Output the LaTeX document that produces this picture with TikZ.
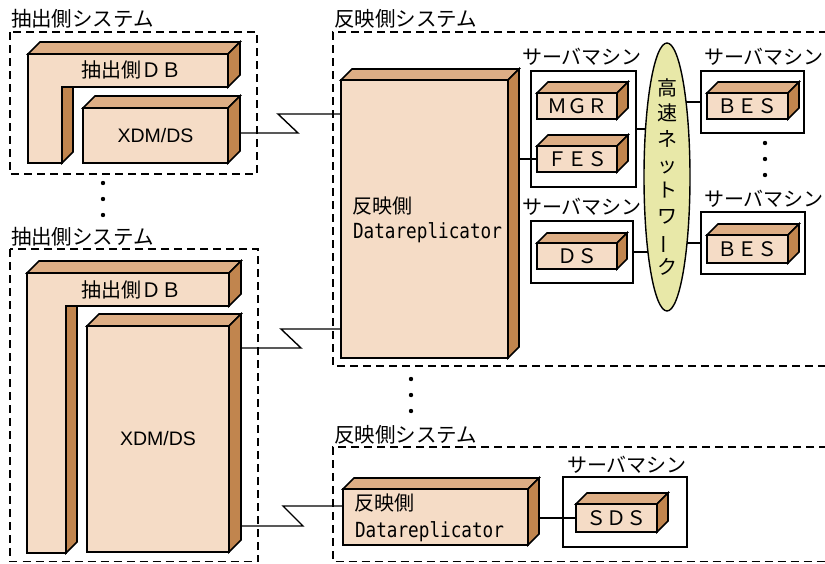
\documentclass[tikz,border=0pt]{standalone}
\usepackage{fontspec}
\setmainfont{Noto Sans CJK JP}
\newfontfamily\latinfont{Liberation Sans}
\newfontfamily\drmono[FakeStretch=0.85]{DejaVu Sans Mono}
\usetikzlibrary{backgrounds,shapes.geometric}
\definecolor{cfront}{HTML}{F5DCC6}
\definecolor{ctop}{HTML}{DDAE85}
\definecolor{cside}{HTML}{C1854E}
\definecolor{cnet}{HTML}{E8E8A8}
\newcommand\cubesides[2]{%
  \filldraw[cubeface, fill=ctop] (#1.north west) -- ++(#2,-#2) -- ([shift={(#2,-#2)}]#1.north east) -- (#1.north east) -- cycle;
  \filldraw[cubeface, fill=cside] (#1.north east) -- ++(#2,-#2) -- ([shift={(#2,-#2)}]#1.south east) -- (#1.south east) -- cycle;}
\newcommand\mkcube[7]{%
  \node[cube, minimum width={#4-#2}, minimum height={#5-#3}] (#1) at ({(#2+#4)/2},{(#3+#5)/2}) {#7};
  \cubesides{#1}{#6}}
\begin{document}
\begin{tikzpicture}[x=1pt,y=-1pt,
  every node/.style={inner sep=0pt, outer sep=0pt},
  cubeface/.style={draw=black, line width=1.6pt, line join=miter},
  cube/.style={cubeface, fill=cfront},
  srvbox/.style={draw, line width=1.4pt},
  sysbox/.style={draw, line width=1.5pt, dash pattern=on 8pt off 5pt},
  conn/.style={draw, line width=1.4pt},
  jp/.style={font=\fontsize{20}{24}\selectfont},
  syslabel/.style={font=\fontsize{20.5}{24}\selectfont, anchor=west},
  drtext/.style={font=\drmono\fontsize{20.8}{24}\selectfont, anchor=base west},
  lat/.style={font=\latinfont\fontsize{19.5}{24}\selectfont}
]
\useasboundingbox (0,0) rectangle (825,563);

% ---------- system frames (dashed) ----------
\node[syslabel] (lblE1) at (11,19) {抽出側システム};
\draw[sysbox] (10,32) rectangle (257,174);
\node[syslabel] (lblE2) at (11,237) {抽出側システム};
\draw[sysbox] (10,249) rectangle (258,561.5);
\node[syslabel] (lblR1) at (334,19) {反映側システム};
\draw[sysbox] (827,32) -- (333,32) -- (333,366) -- (827,366);
\node[syslabel] (lblR2) at (334,435) {反映側システム};
\draw[sysbox] (827,447) -- (333,447) -- (333,561.5) -- (827,561.5);

% ---------- upper extraction system ----------
\filldraw[cube] (28,54) -- (228,54) -- (228,87) -- (62,87) -- (62,163) -- (28,163) -- cycle;
\filldraw[cubeface, fill=ctop] (28,54) -- (40,42) -- (240,42) -- (228,54) -- cycle;
\filldraw[cubeface, fill=cside] (228,54) -- (240,42) -- (240,75) -- (228,87) -- cycle;
\filldraw[cubeface, fill=cside] (62,87) -- (73,87) -- (73,152) -- (62,163) -- cycle;
\node[jp] (dbA) at (131,70) {抽出側ＤＢ};
\mkcube{xdmA}{83}{108}{228}{163}{12}{\latinfont\fontsize{19.5}{24}\selectfont XDM/DS}

% ---------- lower extraction system ----------
\filldraw[cube] (27,273) -- (229,273) -- (229,306) -- (66,306) -- (66,553) -- (27,553) -- cycle;
\filldraw[cubeface, fill=ctop] (27,273) -- (39,261) -- (241,261) -- (229,273) -- cycle;
\filldraw[cubeface, fill=cside] (229,273) -- (241,261) -- (241,294) -- (229,306) -- cycle;
\filldraw[cubeface, fill=cside] (66,306) -- (77,306) -- (77,542) -- (66,553) -- cycle;
\node[jp] (dbB) at (131,290) {抽出側ＤＢ};
\mkcube{xdmB}{87}{326}{229}{552}{12}{\latinfont\fontsize{19.5}{24}\selectfont XDM/DS}

% ---------- upper reflection system ----------
\mkcube{drA}{341}{80}{508}{358}{11}{}
\node[jp, anchor=west] (drAj) at (352,206) {反映側};
\node[drtext] (drAl) at (353,238.5) {Datareplicator};

\node[srvbox, minimum width=105pt, minimum height=116pt] (s1) at (583.5,129) {};
\node[jp] (s1l) at (582,57) {サーバマシン};
\mkcube{mgr}{537}{93}{617}{119}{11}{\fontsize{20}{24}\selectfont ＭＧＲ}
\mkcube{fes}{537}{146}{617}{172}{11}{\fontsize{20}{24}\selectfont ＦＥＳ}

\node[srvbox, minimum width=102pt, minimum height=62pt] (s2) at (582,252) {};
\node[jp] (s2l) at (582,207) {サーバマシン};
\mkcube{ds}{537}{243}{617}{269}{10}{\fontsize{20}{24}\selectfont ＤＳ}

\node[srvbox, minimum width=103pt, minimum height=62pt] (s3) at (752.5,102) {};
\node[jp] (s3l) at (764,57) {サーバマシン};
\mkcube{besA}{707}{93}{788}{119}{11}{\fontsize{20}{24}\selectfont ＢＥＳ}

\node[srvbox, minimum width=104pt, minimum height=62pt] (s4) at (753,243) {};
\node[jp] (s4l) at (764,199) {サーバマシン};
\mkcube{besB}{707}{235}{788}{263}{11}{\fontsize{20}{24}\selectfont ＢＥＳ}

\node[ellipse, draw, line width=1.4pt, fill=cnet, minimum width=46pt, minimum height=268pt] (net) at (667,177) {};
\node[align=center, font=\fontsize{20}{25.7}\selectfont] (nettext) at (667,177)
  {高\\速\\ネ\\ッ\\ト\\ワ\\\rotatebox[origin=c]{90}{ー}\\ク};

% ---------- lower reflection system ----------
\mkcube{drB}{343}{489}{528}{545}{11}{}
\node[jp, anchor=west] (drBj) at (354,503) {反映側};
\node[drtext] (drBl) at (355,537) {Datareplicator};
\node[srvbox, minimum width=124pt, minimum height=70pt] (s5) at (625,512) {};
\node[jp] (s5l) at (627,465) {サーバマシン};
\mkcube{sds}{576}{504}{657}{532}{11}{\fontsize{20}{24}\selectfont ＳＤＳ}

% ---------- connectors ----------
\coordinate (xdmAside) at ([xshift=12pt]xdmA.east);
\coordinate (xdmBside) at ([xshift=12pt]xdmB.east);
\coordinate (drAside) at ([xshift=11pt]drA.east);
\coordinate (drBside) at ([xshift=11pt]drB.east);
\coordinate (kA1) at (298,133);
\coordinate (kA2) at (278,114);
\coordinate (kB1) at (301,348);
\coordinate (kB2) at (281,329);
\coordinate (kC1) at (303,526);
\coordinate (kC2) at (283,506);
\draw[conn] (xdmAside |- kA1) -- (kA1) -- (kA2) -- (drA.west |- kA2);
\draw[conn] (xdmBside |- kB1) -- (kB1) -- (kB2) -- (drA.west |- kB2);
\draw[conn] (xdmBside |- kC1) -- (kC1) -- (kC2) -- (drB.west |- kC2);
\draw[conn] (drAside |- fes.west) -- (fes.west);
\draw[conn] (drBside |- sds.west) -- (sds.west);
\begin{scope}[on background layer]
\draw[conn] (s1.east) -- (s1.east -| net.center);
\draw[conn] (s2.east) -- (s2.east -| net.center);
\draw[conn] (s3.west) -- (s3.west -| net.center);
\draw[conn] (s4.west) -- (s4.west -| net.center);
\end{scope}

% ---------- ellipsis dots ----------
\foreach \yy in {183,199,215} \fill (103,\yy) circle (2.2pt);
\foreach \yy in {379,395,411} \fill (411,\yy) circle (2.2pt);
\foreach \yy in {143,159,175} \fill (765,\yy) circle (2.2pt);
\end{tikzpicture}
\end{document}
